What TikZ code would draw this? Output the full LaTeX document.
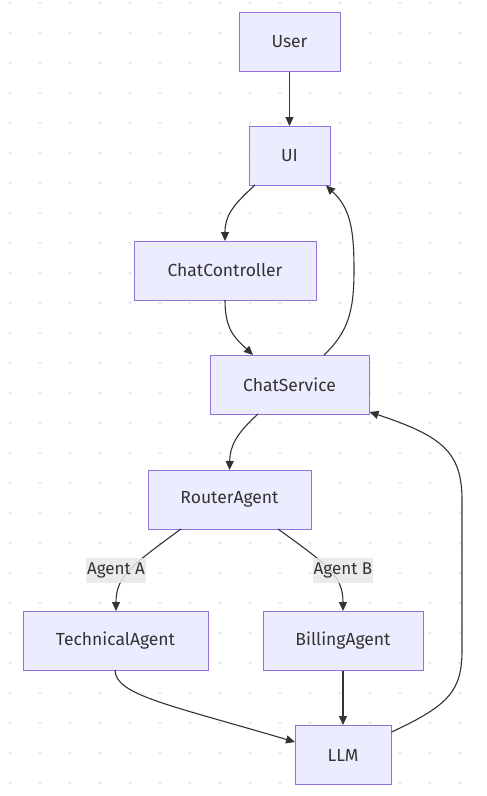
\documentclass[tikz,border=0pt]{standalone}
\usepackage{fontspec}
\setmainfont{Fira Sans}
\usetikzlibrary{arrows.meta}
\definecolor{nodefill}{HTML}{ECECFF}
\definecolor{nodeborder}{HTML}{9370DB}
\definecolor{edgecol}{HTML}{333333}
\definecolor{dotcol}{HTML}{E6E6E6}
\definecolor{lblbg}{HTML}{E8E8E8}
\tikzset{
  box/.style={draw=nodeborder, fill=nodefill, line width=1pt, minimum height=59pt,
    inner sep=0pt, text=edgecol, font=\fontsize{17.5}{20}\selectfont},
  edge/.style={draw=edgecol, line width=1.1pt, -{Triangle[length=9pt,width=8pt]}},
  lbl/.style={fill=lblbg, text=edgecol, inner sep=0pt, minimum width=60pt, minimum height=25pt,
    font=\fontsize{17}{20}\selectfont}
}
\begin{document}
\begin{tikzpicture}[x=1pt,y=-1pt]
\useasboundingbox[fill=white] (0,0) rectangle (487,796);
\foreach \px in {10,40,...,460}{
  \foreach \py in {3,33,...,783}{
    \fill[dotcol] (\px,\py) circle (1.6pt);
  }
}
\node[box, minimum width=101pt] (user) at (289.5,41.5) {User};
\node[box, minimum width=81pt] (ui) at (289.5,156) {UI};
\node[box, minimum width=182pt] (cc) at (225,270.5) {ChatController};
\node[box, minimum width=159pt] (cs) at (289.5,384.5) {ChatService};
\node[box, minimum width=163pt] (ra) at (229.5,499.5) {RouterAgent};
\node[box, minimum width=185pt] (ta) at (115.5,640.5) {TechnicalAgent};
\node[box, minimum width=160pt] (ba) at (343,640.5) {BillingAgent};
\node[box, minimum width=96pt] (llm) at (343,755) {LLM};

\coordinate (uib1) at (255,185);
\coordinate (uib2) at (326,185.5);
\coordinate (cct) at (225,241);
\coordinate (ccb) at (225,300);
\coordinate (cst1) at (253,355);
\coordinate (cst2) at (324,355);
\coordinate (csb) at (258,414);
\coordinate (csr) at (369.5,412);
\coordinate (rat) at (229.5,470);
\coordinate (rab1) at (181,529);
\coordinate (rab2) at (278,529);
\coordinate (tat) at (116,611);
\coordinate (tab) at (115,670);
\coordinate (bat) at (343,611);
\coordinate (llml) at (295,742);
\coordinate (llmr) at (391.5,732);

\draw[edge] (user.south) -- (ui.north);
\draw[edge] (uib1) .. controls (232,206) and (225,216) .. (cct);
\draw[edge] (ccb) .. controls (225,330) and (235,338) .. (cst1);
\draw[edge] (cst2) .. controls (348,332) and (354,312) .. (354,270)
  .. controls (354,228) and (350,208) .. (uib2);
\draw[edge] (csb) .. controls (236,434) and (230,446) .. (rat);
\draw[edge] (rab1) .. controls (132,565) and (116,576) .. (tat);
\draw[edge] (rab2) .. controls (328,565) and (343,576) .. (bat);
\draw[edge] (tab) .. controls (115,695) and (170,705) .. (llml);
\draw[edge] (ba.south) -- (llm.north);
\draw[edge] (llmr) .. controls (450,705) and (462,690) .. (462,650)
  -- (462,500) .. controls (462,452) and (442,436) .. (csr);

\node[lbl, fill opacity=0.85, text opacity=1] (la) at (116,570) {Agent A};
\node[lbl, fill opacity=0.85, text opacity=1] (lb) at (343,570) {Agent B};
\end{tikzpicture}
\end{document}
